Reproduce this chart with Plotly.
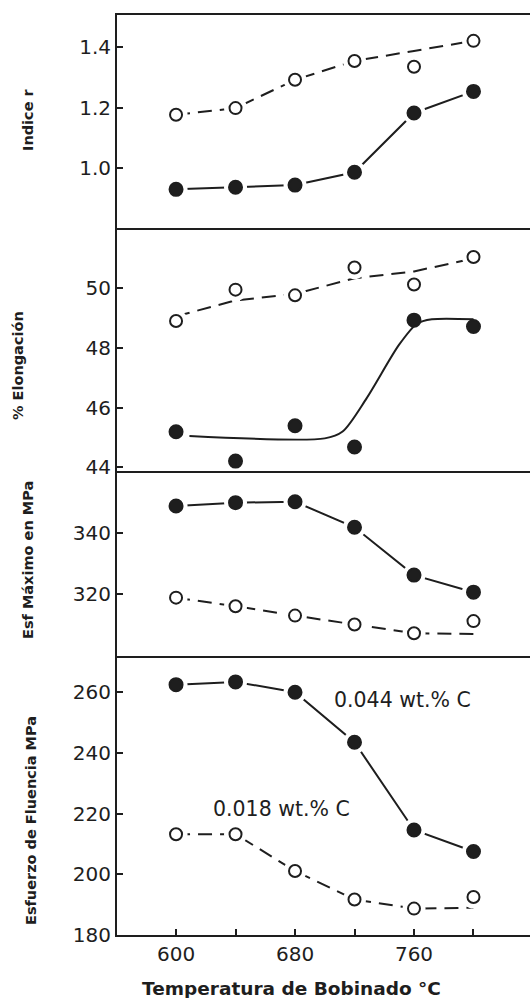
import plotly.graph_objects as go

# ---------------- data ----------------
temps = [600, 640, 680, 720, 760, 800]
x_tickvals = [600, 640, 680, 720, 760, 800]
x_ticktext = ["600", "", "680", "", "760", ""]

# Panel 1: Indice r
r_high = [0.931, 0.938, 0.945, 0.987, 1.182, 1.253]
r_low = [1.176, 1.198, 1.291, 1.353, 1.334, 1.419]
r_low_line = [1.176, 1.198, 1.291, 1.353, 1.386, 1.419]

# Panel 2: % Elongacion
el_high = [45.19, 44.21, 45.39, 44.68, 48.92, 48.71]
el_low = [48.89, 49.94, 49.75, 50.68, 50.11, 51.03]
el_low_line = [49.05, 49.58, 49.8, 50.32, 50.55, 50.98]
el_high_curve_x = [609, 700, 712, 728, 750, 762, 772, 800]
el_high_curve_y = [45.05, 44.97, 45.2, 46.3, 48.1, 48.8, 48.95, 48.95]

# Panel 3: Esf Maximo en MPa
uts_high = [348.8, 349.9, 350.2, 341.8, 326.1, 320.5]
uts_low = [318.7, 315.9, 312.8, 309.9, 307.0, 311.0]
uts_low_line = [318.7, 315.9, 312.8, 309.9, 307.0, 306.8]

# Panel 4: Esfuerzo de Fluencia MPa
ys_high = [262.5, 263.4, 260.0, 243.5, 214.6, 207.5]
ys_low = [213.2, 213.2, 201.1, 191.7, 188.7, 192.5]
ys_low_line = [213.2, 213.2, 201.1, 191.7, 188.7, 189.0]

y_titles = ["Indice r", "% Elongación", "Esf Máximo en MPa", "Esfuerzo de Fluencia MPa"]
x_title = "Temperatura de Bobinado °C"
label_high = "0.044 wt.% C"
label_low = "0.018 wt.% C"

# ---------------- styling ----------------
INK = "#1e1e1e"
W, H = 530, 998
ML, MR, MT, MB = 117, 0, 15, 63
PH = H - MT - MB  # plot height in px

def dom(top_px, bot_px):
    return [(H - MB - bot_px) / PH, (H - MB - top_px) / PH]

domains = [dom(15, 228), dom(228, 471), dom(471, 655.5), dom(655.5, 935)]
yranges = [[0.804, 1.504], [43.88, 52.0], [299.7, 360.3], [180, 272.1]]
yticks = [[1.0, 1.2, 1.4], [44, 46, 48, 50], [320, 340], [180, 200, 220, 240, 260]]
yticktext = [["1.0", "1.2", "1.4"], None, None, None]

TICKFONT = dict(family="DejaVu Sans", size=20, color=INK)
DASH = "14px,8px"

fig = go.Figure()

def add_series(row, xs_line, ys_line, xs_m, ys_m, filled, dashed, halo=True, shape="linear"):
    xa = "x" if row == 1 else f"x{row}"
    ya = "y" if row == 1 else f"y{row}"
    fig.add_trace(go.Scatter(
        x=xs_line, y=ys_line, mode="lines", xaxis=xa, yaxis=ya,
        line=dict(color=INK, width=2, dash=DASH if dashed else "solid",
                  shape=shape, smoothing=0.8 if shape == "spline" else None),
        hoverinfo="skip", showlegend=False))
    if halo:
        fig.add_trace(go.Scatter(
            x=xs_m, y=ys_m, mode="markers", xaxis=xa, yaxis=ya,
            marker=dict(size=23, color="white", line=dict(width=0)),
            hoverinfo="skip", showlegend=False))
    fig.add_trace(go.Scatter(
        x=xs_m, y=ys_m, mode="markers", xaxis=xa, yaxis=ya,
        marker=dict(size=13 if filled else 12,
                    color=INK if filled else "white",
                    line=dict(color=INK, width=2)),
        showlegend=False))

# panel 1
add_series(1, temps, r_low_line, temps, r_low, False, True)
add_series(1, temps, r_high, temps, r_high, True, False)
# panel 2
add_series(2, temps, el_low_line, temps, el_low, False, True)
add_series(2, el_high_curve_x, el_high_curve_y, temps, el_high, True, False,
           halo=False, shape="spline")
# panel 3
add_series(3, temps, uts_low_line, temps, uts_low, False, True)
add_series(3, temps, uts_high, temps, uts_high, True, False)
# panel 4
add_series(4, temps, ys_low_line, temps, ys_low, False, True)
add_series(4, temps, ys_high, temps, ys_high, True, False)

layout = dict(
    width=W, height=H,
    margin=dict(l=ML, r=MR, t=MT, b=MB),
    paper_bgcolor="white", plot_bgcolor="white",
    font=dict(family="DejaVu Sans", color=INK),
    showlegend=False,
)

for i in range(4):
    row = i + 1
    xk = "xaxis" if row == 1 else f"xaxis{row}"
    yk = "yaxis" if row == 1 else f"yaxis{row}"
    ya = "y" if row == 1 else f"y{row}"
    xa = "x" if row == 1 else f"x{row}"
    bottom = row == 4
    layout[xk] = dict(
        domain=[0, 1], anchor=ya, range=[560.3, 838], showgrid=False, zeroline=False,
        showline=True, mirror=(row == 1), linecolor=INK, linewidth=2,
        tickvals=x_tickvals, ticktext=x_ticktext if bottom else [""] * 6,
        ticks="inside" if bottom else "", ticklen=6, tickwidth=1.5, tickcolor=INK,
        tickfont=TICKFONT, showticklabels=bottom,
        **({"matches": "x"} if row > 1 else {}),
    )
    yax = dict(
        domain=domains[i], anchor=xa, range=yranges[i], showgrid=False, zeroline=False,
        showline=True, mirror=False, linecolor=INK, linewidth=2,
        tickvals=yticks[i], ticks="inside", ticklen=6, tickwidth=1.5, tickcolor=INK,
        tickfont=TICKFONT,
    )
    if yticktext[i] is not None:
        yax["ticktext"] = yticktext[i]
    layout[yk] = yax

fig.update_layout(**layout)

def px_to_paper_x(px):
    return (px - ML) / (W - ML - MR)

def px_to_paper_y(py):
    return (H - MB - py) / PH

title_pos = [(28, 120), (18, 366), (28, 560), (31, 821)]
for t, (px, py) in zip(y_titles, title_pos):
    fig.add_annotation(
        text=f"<b>{t}</b>", xref="paper", yref="paper",
        x=px_to_paper_x(px), y=px_to_paper_y(py), textangle=-90,
        xanchor="center", yanchor="middle", showarrow=False,
        font=dict(family="DejaVu Sans", size=14.5, color=INK))

fig.add_annotation(
    text=f"<b>{x_title}</b>", xref="paper", yref="paper",
    x=px_to_paper_x(291), y=px_to_paper_y(988), xanchor="center", yanchor="middle",
    showarrow=False, font=dict(family="DejaVu Sans", size=18.5, color=INK))

fig.add_annotation(text=label_high, xref="x4", yref="y4", x=752, y=257.5,
                   showarrow=False, xanchor="center", yanchor="middle",
                   font=dict(family="DejaVu Sans", size=20.5, color=INK))
fig.add_annotation(text=label_low, xref="x4", yref="y4", x=671, y=221.5,
                   showarrow=False, xanchor="center", yanchor="middle",
                   font=dict(family="DejaVu Sans", size=20.5, color=INK))

fig.write_html("out.html")
